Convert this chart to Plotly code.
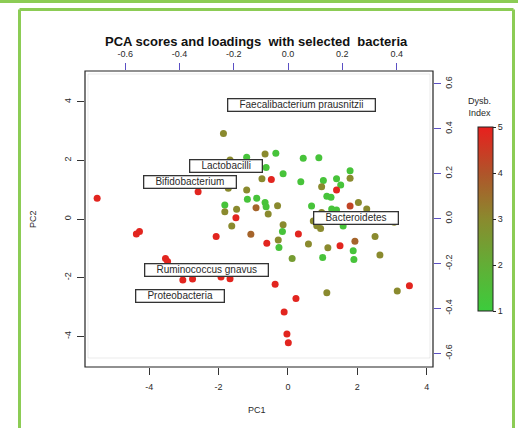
import plotly.graph_objects as go

# PCA scores (PC1, PC2) and dysbiosis index per sample
pc1 = [-1.86, -1.67, -1.19, -0.66, -0.35, 0.44, 0.89, -0.63, -0.14, -0.75,
       -0.48, -2.59, -1.72, -1.19, -1.17, -0.90, -0.66, -0.92, -0.63, -0.30,
       -0.57, -1.82, -1.82, -1.48, -1.50, -1.62, 0.37, 0.68, 1.02, 0.97,
       1.40, 1.52, 1.40, 1.79, 1.79, 1.12, 1.24, 1.26, 1.40, 1.79,
       2.03, 2.27, 0.97, 0.73, 0.83, 0.94, 1.59, 3.06, -0.14, -0.16,
       0.30, -1.07, -2.07, -4.37, -4.28, -0.61, -0.28, -0.26, 0.59, 1.50,
       1.93, 1.88, 2.51, 2.65, 1.15, 0.12, 1.00, -3.53, -3.47, 1.90,
       -3.03, -2.75, -1.93, -1.67, -0.37, 0.23, 1.12, 3.15, 3.50, -0.11,
       -0.03, 0.01, -5.50]
pc2 = [2.92, 2.01, 2.11, 2.22, 2.24, 2.07, 2.09, 1.76, 1.54, 1.37,
       1.35, 0.93, 1.05, 0.99, 0.67, 0.71, 0.56, 0.38, 0.42, 0.45,
       0.17, 0.48, 0.25, 0.33, 0.04, -0.24, 1.27, 0.44, 1.31, 1.10,
       1.37, 1.16, 0.99, 1.65, 1.39, 0.78, 0.74, 0.34, 0.31, 0.44,
       0.56, 0.34, 0.22, -0.07, -0.23, -0.32, -0.24, -0.11, -0.20, -0.43,
       -0.51, -0.52, -0.60, -0.51, -0.43, -0.83, -0.72, -0.97, -0.85, -0.91,
       -0.76, -1.08, -0.60, -1.23, -0.98, -1.35, -1.31, -1.35, -1.45, -1.38,
       -2.08, -2.05, -1.98, -2.04, -2.23, -2.71, -2.52, -2.46, -2.28, -3.17,
       -3.92, -4.22, 0.71]
dysb = [3.0, 3.0, 1.3, 3.0, 1.3, 1.3, 1.3, 1.3, 1.3, 3.0,
        4.9, 4.9, 3.0, 3.0, 1.3, 1.3, 1.3, 3.7, 1.3, 3.0,
        3.0, 1.3, 3.0, 3.0, 4.9, 3.0, 1.3, 1.3, 1.3, 3.0,
        1.3, 1.3, 4.9, 1.3, 3.0, 1.3, 1.3, 1.3, 1.3, 4.3,
        3.0, 3.0, 3.0, 3.0, 3.0, 3.0, 1.3, 3.0, 3.0, 1.3,
        4.9, 3.7, 4.9, 4.9, 4.9, 4.9, 3.0, 1.3, 3.0, 4.9,
        3.7, 1.3, 3.0, 3.0, 3.0, 2.5, 1.3, 4.9, 4.9, 1.3,
        4.9, 4.9, 4.9, 4.9, 4.9, 4.9, 3.0, 3.0, 4.9, 4.9,
        4.9, 4.9, 4.9]

# Loadings of selected bacteria (label positions)
bacteria = ["Faecalibacterium prausnitzii", "Lactobacilli", "Bifidobacterium",
            "Bacteroidetes", "Ruminococcus gnavus", "Proteobacteria"]
load1 = [0.048, -0.230, -0.361, 0.250, -0.302, -0.398]
load2 = [0.506, 0.234, 0.163, 0.002, -0.229, -0.345]

score_ticks = [-4, -2, 0, 2, 4]
score_labels = ["-4", "-2", "0", "2", "4"]
load_ticks = [-0.6, -0.4, -0.2, 0.0, 0.2, 0.4, 0.6]
load_labels = ["-0.6", "-0.4", "-0.2", "0.0", "0.2", "0.4", "0.6"]
cbar_ticks = [1, 2, 3, 4, 5]

FONT = "Liberation Sans, Arial, sans-serif"
TXT = "#2a2a2a"
PURPLE = "#5b4fc4"
GREEN = "#8ccc55"
PAD = "&nbsp;&nbsp;&nbsp;&nbsp;"

colorscale = [[0.0, "#3ccc3c"], [0.25, "#62ae36"], [0.5, "#8a8a2e"],
              [0.75, "#b0542a"], [1.0, "#e8201e"]]

fig = go.Figure()

fig.add_trace(go.Scatter(
    x=pc1, y=pc2, mode="markers",
    marker=dict(size=7, color=dysb, cmin=1, cmax=5, colorscale=colorscale,
                line=dict(width=0),
                colorbar=dict(x=1.129, xanchor="left", xpad=0, ypad=0,
                              y=0.5, yanchor="middle", len=0.622, lenmode="fraction",
                              thickness=15, outlinewidth=1, outlinecolor="#222",
                              tickvals=cbar_ticks, ticks="outside", ticklen=3,
                              tickcolor="#222",
                              tickfont=dict(family=FONT, size=9, color=TXT))),
    showlegend=False, hoverinfo="skip"))

# invisible trace to activate secondary (loading) axes
fig.add_trace(go.Scatter(x=load1, y=load2, xaxis="x2", yaxis="y2",
                         mode="markers", marker=dict(size=1, opacity=0),
                         showlegend=False, hoverinfo="skip"))

for name, lx, ly in zip(bacteria, load1, load2):
    fig.add_annotation(x=lx, y=ly, xref="x2", yref="y2", text=PAD + name + PAD,
                       showarrow=False, bordercolor="#333", borderwidth=1.3,
                       borderpad=0, bgcolor="white", xanchor="center", yanchor="middle",
                       font=dict(family=FONT, size=10, color=TXT))

fig.update_layout(
    width=518, height=428,
    margin=dict(l=85, r=85, t=71, b=61, autoexpand=False),
    paper_bgcolor="white", plot_bgcolor="white",
    font=dict(family=FONT, size=9, color=TXT),
    xaxis=dict(range=[-5.85, 4.18], tickvals=score_ticks, ticktext=score_labels,
               showgrid=False, zeroline=False, ticks="outside", ticklen=7,
               tickcolor="#333", tickfont=dict(size=9, color=TXT), showline=False,
               automargin=False, ticklabelstandoff=4),
    yaxis=dict(range=[-5.05, 5.05], tickvals=score_ticks, ticktext=score_labels,
               showgrid=False, zeroline=False, ticks="outside", ticklen=7,
               tickcolor="#333", tickangle=-90, tickfont=dict(size=9, color=TXT),
               showline=False, automargin=False, ticklabelstandoff=2),
    xaxis2=dict(range=[-0.748, 0.534], overlaying="x", side="top",
                tickvals=load_ticks, ticktext=load_labels, showgrid=False,
                zeroline=False, ticks="outside", ticklen=7, tickcolor=PURPLE,
                tickfont=dict(size=9, color=TXT), showline=False, automargin=False,
                ticklabelstandoff=2),
    yaxis2=dict(range=[-0.661, 0.657], overlaying="y", side="right",
                tickvals=load_ticks, ticktext=load_labels, showgrid=False,
                zeroline=False, ticks="outside", ticklen=7, tickcolor=PURPLE,
                tickangle=-90, tickfont=dict(size=9, color=TXT), showline=False,
                automargin=False),
)

# plot frame
fig.add_shape(type="rect", xref="paper", yref="paper", x0=0, x1=1, y0=0, y1=1,
              line=dict(color="#222", width=1.2), layer="above")
# faint inner frame
fig.add_shape(type="rect", xref="paper", yref="paper",
              x0=(88 - 85) / 348, x1=(430 - 85) / 348,
              y0=(367 - 358) / 296, y1=(367 - 74) / 296,
              line=dict(color="rgba(0,0,0,0.08)", width=1), layer="below")


def px_x(v):
    return (v - 85) / 348


def px_y(v):
    return (367 - v) / 296


# green page border (left, right, top edges; open at the bottom)
for x0, y0, x1, y1 in [(19.5, 9.5, 19.5, 440), (513.5, 9.5, 513.5, 440),
                       (19.5, 9.5, 513.5, 9.5), (0, 1.5, 518, 1.5)]:
    fig.add_shape(type="line", xref="paper", yref="paper",
                  x0=px_x(x0), x1=px_x(x1), y0=px_y(y0), y1=px_y(y1),
                  line=dict(color=GREEN, width=3))

# titles
fig.add_annotation(xref="paper", yref="paper", x=px_x(256), y=px_y(42),
                   xanchor="center", yanchor="middle",
                   text="<b>PCA scores and loadings  with selected  bacteria</b>",
                   showarrow=False, font=dict(family=FONT, size=13, color="#111"))
fig.add_annotation(xref="paper", yref="paper", x=px_x(257), y=px_y(410),
                   xanchor="center", yanchor="middle",
                   text="PC1", showarrow=False, font=dict(family=FONT, size=9, color=TXT))
fig.add_annotation(xref="paper", yref="paper", x=px_x(33), y=px_y(219),
                   xanchor="center", yanchor="middle",
                   text="PC2", textangle=-90, showarrow=False,
                   font=dict(family=FONT, size=9, color=TXT))
fig.add_annotation(xref="paper", yref="paper", x=px_x(479), y=px_y(107),
                   xanchor="center", yanchor="middle",
                   text="Dysb.<br>Index", showarrow=False, align="center",
                   font=dict(family=FONT, size=9, color=TXT))

fig.write_html("out.html", config={"displayModeBar": False},
               post_script="document.body.style.margin='0';document.body.style.overflow='hidden';document.documentElement.style.overflow='hidden';")
